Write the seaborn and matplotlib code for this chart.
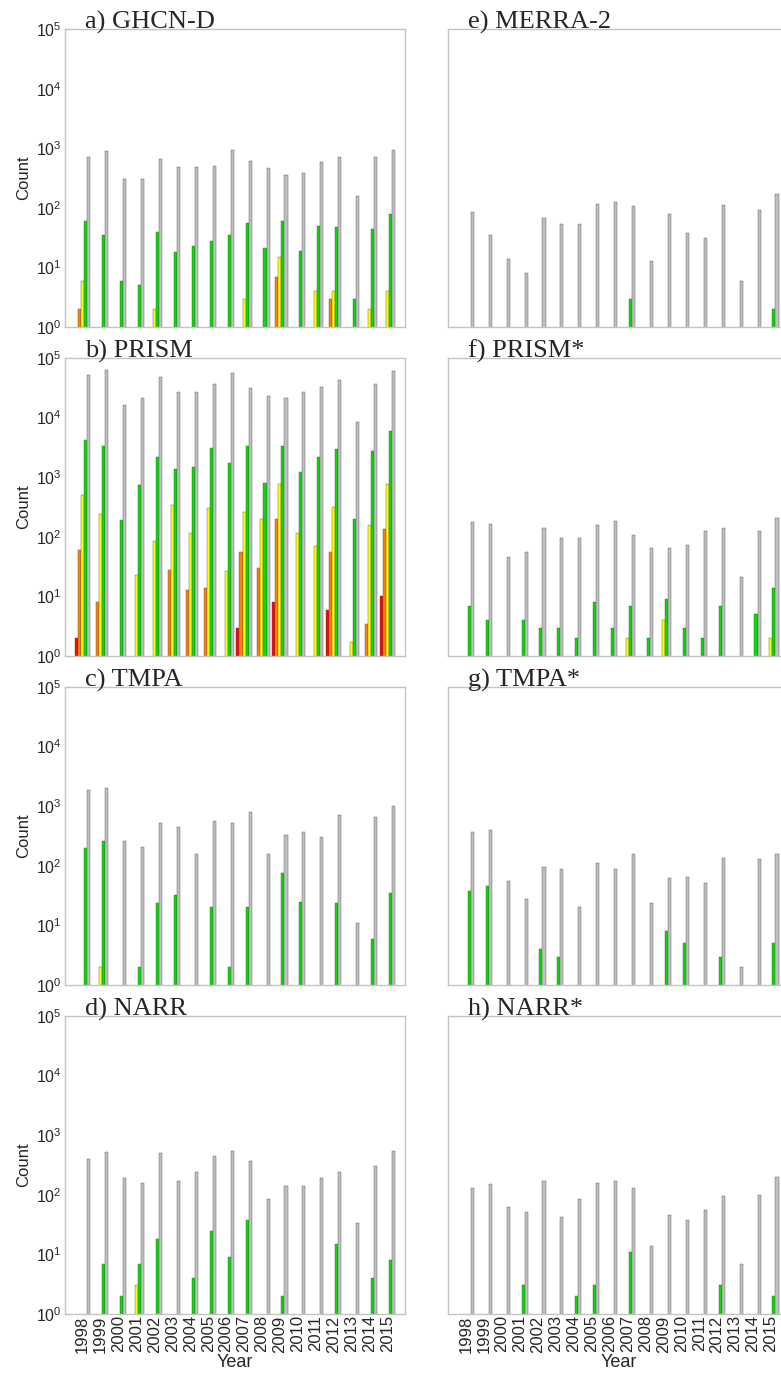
import numpy as np
import pandas as pd
import seaborn as sns
import matplotlib
matplotlib.use('Agg')
import matplotlib.pyplot as plt

years = [str(y) for y in range(1998, 2016)]
levels = ['L1', 'L2', 'L3', 'L4', 'L5']
colors = ['#ff0000', '#ff8000', '#ffff00', '#00e000', '#c0c0c0']

# a) GHCN-D
ghcn_red = [0, 0, 0, 0, 0, 0, 0, 0, 0, 0, 0, 0, 0, 0, 0, 0, 0, 0]
ghcn_orange = [2, 0, 0, 0, 0, 0, 0, 0, 0, 0, 0, 7, 0, 0, 3, 0, 0, 0]
ghcn_yellow = [6, 0, 0, 0, 2, 0, 0, 0, 0, 3, 0, 15, 0, 4, 4, 0, 2, 4]
ghcn_green = [60, 35, 6, 5, 40, 18, 23, 28, 35, 55, 21, 60, 19, 50, 48, 3, 45, 80]
ghcn_gray = [700, 900, 300, 300, 650, 480, 480, 500, 950, 600, 470, 360, 380, 580, 700, 160, 700, 950]

# b) PRISM
prism_red = [2, 0, 0, 0, 0, 0, 0, 0, 0, 3, 0, 8, 0, 0, 6, 0, 0, 10]
prism_orange = [60, 8, 0, 0, 0, 28, 13, 14, 0, 55, 30, 200, 0, 0, 55, 0, 3.5, 135]
prism_yellow = [500, 240, 0, 23, 85, 340, 115, 300, 27, 260, 200, 780, 118, 70, 320, 1.7, 155, 780]
prism_green = [4200, 3300, 190, 750, 2150, 1400, 1500, 3100, 1700, 3300, 790, 3300, 1200, 2200, 3000, 200, 2800, 6000]
prism_gray = [52000, 62000, 16000, 21000, 48000, 26500, 27000, 37000, 55000, 31000, 23000, 21500, 27000, 33000, 43000, 8300, 37000, 60000]

# c) TMPA
tmpa_red = [0, 0, 0, 0, 0, 0, 0, 0, 0, 0, 0, 0, 0, 0, 0, 0, 0, 0]
tmpa_orange = [0, 0, 0, 0, 0, 0, 0, 0, 0, 0, 0, 0, 0, 0, 0, 0, 0, 0]
tmpa_yellow = [0, 2, 0, 0, 0, 0, 0, 0, 0, 0, 0, 0, 0, 0, 0, 0, 0, 0]
tmpa_green = [200, 260, 0, 2, 24, 32, 0, 20, 2, 20, 0, 75, 25, 0, 24, 0, 6, 35]
tmpa_gray = [1900, 2000, 260, 210, 520, 450, 160, 560, 530, 800, 160, 330, 370, 300, 700, 11, 650, 1000]

# d) NARR
narr_red = [0, 0, 0, 0, 0, 0, 0, 0, 0, 0, 0, 0, 0, 0, 0, 0, 0, 0]
narr_orange = [0, 0, 0, 0, 0, 0, 0, 0, 0, 0, 0, 0, 0, 0, 0, 0, 0, 0]
narr_yellow = [0, 0, 0, 3, 0, 0, 0, 0, 0, 0, 0, 0, 0, 0, 0, 0, 0, 0]
narr_green = [0, 7, 2, 7, 18, 0, 4, 25, 9, 38, 0, 2, 0, 0, 15, 0, 4, 8]
narr_gray = [400, 520, 190, 160, 500, 170, 240, 450, 550, 370, 85, 140, 140, 190, 240, 33, 300, 550]

# e) MERRA-2
merra_red = [0, 0, 0, 0, 0, 0, 0, 0, 0, 0, 0, 0, 0, 0, 0, 0, 0, 0]
merra_orange = [0, 0, 0, 0, 0, 0, 0, 0, 0, 0, 0, 0, 0, 0, 0, 0, 0, 0]
merra_yellow = [0, 0, 0, 0, 0, 0, 0, 0, 0, 0, 0, 0, 0, 0, 0, 0, 0, 0]
merra_green = [0, 0, 0, 0, 0, 0, 0, 0, 0, 3, 0, 0, 0, 0, 0, 0, 0, 2]
merra_gray = [85, 35, 14, 8, 67, 54, 54, 116, 125, 107, 13, 78, 38, 31, 113, 6, 92, 170]

# f) PRISM*
prism2_red = [0, 0, 0, 0, 0, 0, 0, 0, 0, 0, 0, 0, 0, 0, 0, 0, 0, 0]
prism2_orange = [0, 0, 0, 0, 0, 0, 0, 0, 0, 0, 0, 0, 0, 0, 0, 0, 0, 0]
prism2_yellow = [0, 0, 0, 0, 0, 0, 0, 0, 0, 2, 0, 4, 0, 0, 0, 0, 0, 2]
prism2_green = [7, 4, 0, 4, 3, 3, 2, 8, 3, 7, 2, 9, 3, 2, 7, 0, 5, 14]
prism2_gray = [174, 167, 46, 56, 139, 95, 97, 157, 185, 109, 66, 66, 72, 124, 143, 21, 125, 210]

# g) TMPA*
tmpa2_red = [0, 0, 0, 0, 0, 0, 0, 0, 0, 0, 0, 0, 0, 0, 0, 0, 0, 0]
tmpa2_orange = [0, 0, 0, 0, 0, 0, 0, 0, 0, 0, 0, 0, 0, 0, 0, 0, 0, 0]
tmpa2_yellow = [0, 0, 0, 0, 0, 0, 0, 0, 0, 0, 0, 0, 0, 0, 0, 0, 0, 0]
tmpa2_green = [38, 45, 0, 0, 4, 3, 0, 0, 0, 0, 0, 8, 5, 0, 3, 0, 0, 5]
tmpa2_gray = [370, 400, 55, 28, 95, 90, 20, 110, 90, 160, 24, 62, 65, 52, 135, 2, 130, 160]

# h) NARR*
narr2_red = [0, 0, 0, 0, 0, 0, 0, 0, 0, 0, 0, 0, 0, 0, 0, 0, 0, 0]
narr2_orange = [0, 0, 0, 0, 0, 0, 0, 0, 0, 0, 0, 0, 0, 0, 0, 0, 0, 0]
narr2_yellow = [0, 0, 0, 0, 0, 0, 0, 0, 0, 0, 0, 0, 0, 0, 0, 0, 0, 0]
narr2_green = [0, 0, 0, 3, 0, 0, 2, 3, 0, 11, 0, 0, 0, 0, 3, 0, 0, 2]
narr2_gray = [130, 150, 62, 52, 170, 42, 85, 160, 170, 130, 14, 45, 38, 55, 95, 7, 100, 200]

panels = [
    ('a) GHCN-D', [ghcn_red, ghcn_orange, ghcn_yellow, ghcn_green, ghcn_gray]),
    ('b) PRISM', [prism_red, prism_orange, prism_yellow, prism_green, prism_gray]),
    ('c) TMPA', [tmpa_red, tmpa_orange, tmpa_yellow, tmpa_green, tmpa_gray]),
    ('d) NARR', [narr_red, narr_orange, narr_yellow, narr_green, narr_gray]),
    ('e) MERRA-2', [merra_red, merra_orange, merra_yellow, merra_green, merra_gray]),
    ('f) PRISM*', [prism2_red, prism2_orange, prism2_yellow, prism2_green, prism2_gray]),
    ('g) TMPA*', [tmpa2_red, tmpa2_orange, tmpa2_yellow, tmpa2_green, tmpa2_gray]),
    ('h) NARR*', [narr2_red, narr2_orange, narr2_yellow, narr2_green, narr2_gray]),
]

sns.set_style('white')
plt.rcParams['font.family'] = ['Liberation Sans', 'DejaVu Sans']
plt.rcParams['mathtext.default'] = 'regular'

fig = plt.figure(figsize=(7.81, 13.77), dpi=100)
bottoms = [0.7625, 0.5236, 0.2847, 0.0458]
height = 0.2164
lefts = [0.083, 0.574]
width = 0.436


def make_df(series):
    rows = []
    for lev, vals in zip(levels, series):
        for yr, v in zip(years, vals):
            if v > 0:
                rows.append({'year': yr, 'level': lev, 'count': v})
    return pd.DataFrame(rows)


for i, (title, series) in enumerate(panels):
    col, row = divmod(i, 4)
    ax = fig.add_axes([lefts[col], bottoms[row], width, height])
    df = make_df(series)
    sns.barplot(data=df, x='year', y='count', hue='level', order=years, hue_order=levels,
                palette=colors, saturation=1, errorbar=None, legend=False, width=0.85,
                edgecolor='#555555', linewidth=0.3, ax=ax)
    ax.set_yscale('log')
    ax.set_ylim(1, 1e5)
    ax.set_xlim(-1, 18)
    ax.set_yticks([1, 10, 100, 1e3, 1e4, 1e5])
    ax.minorticks_off()
    for s in ax.spines.values():
        s.set_color('#c4c4c4')
        s.set_linewidth(1.0)
    ax.text(0.058, 1.0, title, transform=ax.transAxes, va='baseline', ha='left',
            fontsize=19, family='Liberation Serif')
    if col == 0:
        ax.set_ylabel('Count', fontsize=12)
        ax.tick_params(axis='y', labelsize=11.5, pad=2)
    else:
        ax.set_ylabel('')
        ax.set_yticklabels([])
    if row == 3:
        ax.set_xlabel('Year', fontsize=13, labelpad=1)
        ax.tick_params(axis='x', labelsize=12, rotation=90, pad=1)
    else:
        ax.set_xlabel('')
        ax.set_xticklabels([])
    ax.tick_params(length=0)

fig.savefig('out.png', dpi=100)
